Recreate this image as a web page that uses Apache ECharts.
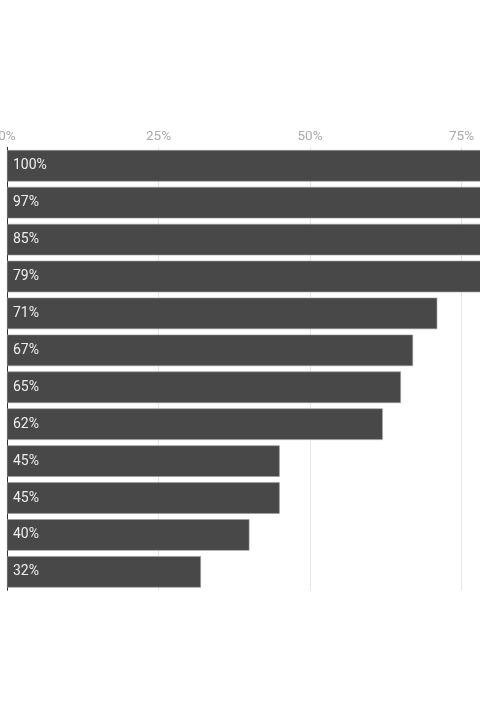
<!DOCTYPE html>
<html><head><meta charset="utf-8">
<script src="https://cdn.jsdelivr.net/npm/echarts@6/dist/echarts.min.js"></script>
<style>html,body{margin:0;padding:0;background:#fff}#c{width:480px;height:720px}</style>
</head><body><div id="c"></div>
<script>
const categories = ["Item 1","Item 2","Item 3","Item 4","Item 5","Item 6","Item 7","Item 8","Item 9","Item 10","Item 11","Item 12"];
const values = [100, 97, 85, 79, 71, 67, 65, 62, 45, 45, 40, 32];
const xTicks = [0, 25, 50, 75, 100];

const chart = echarts.init(document.getElementById('c'), null, {renderer:'canvas'});
chart.setOption({
  animation: false,
  grid: {left: 7, top: 147.3, width: 606, height: 443, containLabel: false, outerBoundsMode: 'none'},
  xAxis: {
    type: 'value', position: 'top', min: xTicks[0], max: xTicks[xTicks.length-1], interval: 25,
    axisLine: {show: false}, axisTick: {show: false},
    axisLabel: {formatter: v => v + '%', color: '#aaaaaa', fontSize: 13.5, fontFamily: 'Roboto', margin: 4},
    splitLine: {lineStyle: {color: '#e6e6e6', width: 1}}
  },
  yAxis: {
    type: 'category', data: categories, inverse: true,
    axisLine: {show: true, lineStyle: {color: '#333', width: 1}},
    axisTick: {show: false}, axisLabel: {show: false}, splitLine: {show: false}
  },
  series: [{
    type: 'bar', data: values, barCategoryGap: '14.7%',
    itemStyle: {color: '#484848', borderColor: '#9a9a9a', borderWidth: 0.6},
    label: {show: true, position: 'insideLeft', distance: 6, formatter: p => p.value + '%',
      color: '#eeeeee', fontSize: 14, fontFamily: 'Roboto'}
  }]
});
</script></body></html>
